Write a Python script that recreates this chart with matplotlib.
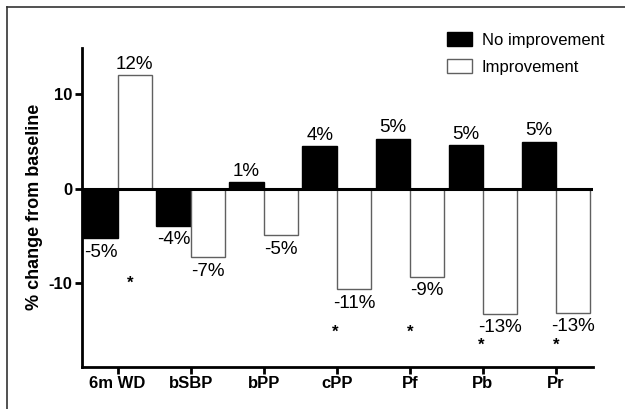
import matplotlib
matplotlib.use("Agg")
import matplotlib.pyplot as plt
import numpy as np
from matplotlib.patches import Patch
from matplotlib.lines import Line2D

plt.rcParams['font.family'] = ['Liberation Sans', 'DejaVu Sans']

# values
categories = ['6m WD', 'bSBP', 'bPP', 'cPP', 'Pf', 'Pb', 'Pr']
no_improvement = [-5.2, -3.9, 0.7, 4.5, 5.3, 4.6, 5.0]
improvement = [12.0, -7.2, -4.9, -10.6, -9.3, -13.2, -13.1]
no_improvement_labels = ['-5%', '-4%', '1%', '4%', '5%', '5%', '5%']
improvement_labels = ['12%', '-7%', '-5%', '-11%', '-9%', '-13%', '-13%']

# significance stars (x in category units, y in % change)
star_x = [0.17, 2.98, 4.0, 4.98, 6.0]
star_y = [-10.0, -15.2, -15.2, -16.5, -16.5]

fig = plt.figure(figsize=(6.25, 4.09), dpi=100)
ax = fig.add_axes([0.131, 0.1034, 0.817, 0.7792])

x = np.arange(len(categories))
w = 0.47
off = 0.235

ax.bar(x - off, no_improvement, w, color='black', edgecolor='black', linewidth=1, zorder=2)
ax.bar(x + off, improvement, w, color='white', edgecolor='#606060', linewidth=1, zorder=2)

ax.axhline(0, color='black', linewidth=2.2, zorder=3)


def put_label(xpos, val, txt):
    if val >= 0:
        ax.annotate(txt, (xpos, val), xytext=(0, 2), textcoords='offset points',
                    ha='center', va='bottom', fontsize=13.5)
    else:
        ax.annotate(txt, (xpos, val), xytext=(0, -4), textcoords='offset points',
                    ha='center', va='top', fontsize=13.5)


for i in range(len(categories)):
    put_label(x[i] - off, no_improvement[i], no_improvement_labels[i])
    put_label(x[i] + off, improvement[i], improvement_labels[i])

for sx, sy in zip(star_x, star_y):
    ax.text(sx, sy, '*', ha='center', va='center', fontsize=12, fontweight='bold')

ax.set_xlim(-0.49, 6.5)
ax.set_ylim(-18.8, 14.9)
ax.set_xticks(x)
ax.set_xticklabels(categories, fontweight='bold', fontsize=12)
ax.set_yticks([-10, 0, 10])
ax.set_yticklabels(['-10', '0', '10'], fontweight='bold', fontsize=12)
ax.tick_params(axis='both', length=5, width=2, pad=2)

for side in ['top', 'right']:
    ax.spines[side].set_visible(False)
for side in ['left', 'bottom']:
    ax.spines[side].set_linewidth(2)

ax.set_ylabel('% change from baseline', fontweight='bold', fontsize=13, labelpad=4)

handles = [Patch(facecolor='black', edgecolor='black'),
           Patch(facecolor='white', edgecolor='#606060')]
fig.legend(handles, ['No improvement', 'Improvement'], loc='upper left',
           bbox_to_anchor=(438.5 / 625, 1 - 24 / 409), frameon=False,
           borderpad=0, handlelength=1.5, handleheight=0.85,
           handletextpad=0.6, labelspacing=0.7, fontsize=12)

# frame lines around the figure (left and top only visible)
fig.add_artist(Line2D([7 / 625, 7 / 625], [0, 1 - 7 / 409], color='#333333', linewidth=1.2))
fig.add_artist(Line2D([7 / 625, 1], [1 - 7 / 409, 1 - 7 / 409], color='#333333', linewidth=1.2))

fig.savefig('out.png', dpi=100)
